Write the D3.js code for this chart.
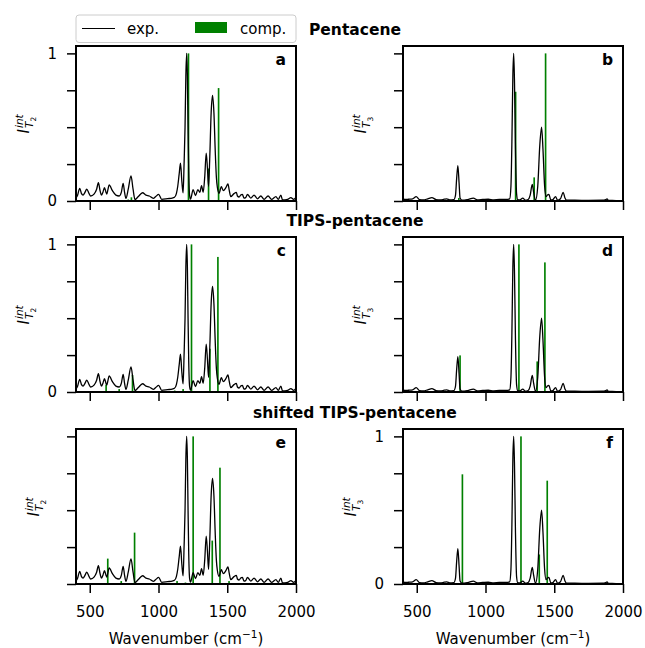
<!DOCTYPE html>
<html>
<head>
<meta charset="utf-8">
<script src="https://cdn.jsdelivr.net/npm/d3@7"></script>
<style>
  body { margin: 0; background: #fff; }
  svg { display: block; font-family: "DejaVu Sans", sans-serif; }
</style>
</head>
<body>
<div id="chart"></div>
<script>
// experimental spectra [wavenumber, normalised intensity]
const expT2 = [
  [400, 0.02], [410, 0.035], [427, 0.086], [440, 0.05], [451, 0.04], [466, 0.06], [478, 0.081], [495, 0.05],
  [507, 0.034], [531, 0.047], [550, 0.08], [563, 0.124], [575, 0.07], [585, 0.04], [596, 0.06], [607, 0.09],
  [618, 0.06], [624, 0.047], [633, 0.08], [641, 0.109], [665, 0.07], [690, 0.04], [714, 0.034], [730, 0.06],
  [743, 0.12], [753, 0.06], [763, 0.018], [780, 0.08], [800, 0.17], [815, 0.08], [829, 0.01], [853, 0.03],
  [884, 0.056], [909, 0.04], [933, 0.034], [962, 0.018], [980, 0.03], [1001, 0.045], [1023, 0.011],
  [1067, 0.016], [1100, 0.02], [1116, 0.025], [1130, 0.05], [1140, 0.1], [1150, 0.18], [1160, 0.256],
  [1170, 0.13], [1179, 0.055], [1186, 0.25], [1193, 0.5], [1199, 0.85], [1205, 1.0], [1210, 0.85],
  [1215, 0.5], [1220, 0.2], [1226, 0.04], [1233, 0.013], [1252, 0.077], [1269, 0.036], [1286, 0.077],
  [1301, 0.059], [1313, 0.104], [1325, 0.059], [1336, 0.16], [1347, 0.324], [1356, 0.22], [1364, 0.1],
  [1373, 0.3], [1383, 0.6], [1393, 0.715], [1403, 0.6], [1413, 0.33], [1421, 0.16], [1428, 0.093],
  [1440, 0.052], [1457, 0.097], [1471, 0.07], [1490, 0.09], [1505, 0.115], [1515, 0.07], [1525, 0.03],
  [1549, 0.05], [1566, 0.059], [1574, 0.034], [1586, 0.027], [1598, 0.04], [1610, 0.045], [1622, 0.02],
  [1634, 0.023], [1647, 0.045], [1671, 0.02], [1695, 0.04], [1720, 0.015], [1744, 0.034], [1768, 0.011],
  [1797, 0.034], [1822, 0.011], [1854, 0.03], [1871, 0.011], [1890, 0.04], [1902, 0.007], [1939, 0.011],
  [1963, 0.023], [1983, 0.011], [2000, 0.025]
];

const expT3 = [
  [400, 0.015], [420, 0.01], [440, 0.012], [470, 0.015], [496, 0.03], [520, 0.01], [549, 0.007],
  [580, 0.015], [610, 0.023], [640, 0.01], [670, 0.007], [700, 0.012], [718, 0.015], [740, 0.008],
  [770, 0.01], [782, 0.04], [790, 0.15], [799, 0.24], [808, 0.12], [815, 0.02], [830, 0.005], [870, 0.01],
  [912, 0.02], [940, 0.008], [980, 0.01], [1020, 0.012], [1060, 0.008], [1100, 0.01], [1150, 0.01],
  [1176, 0.015], [1185, 0.1], [1192, 0.4], [1199, 0.85], [1205, 1.0], [1211, 0.8], [1218, 0.35],
  [1226, 0.05], [1234, 0.01], [1250, 0.008], [1271, 0.02], [1290, 0.005], [1310, 0.01], [1325, 0.04],
  [1340, 0.113], [1350, 0.06], [1364, 0.005], [1380, 0.1], [1395, 0.38], [1408, 0.5], [1418, 0.35],
  [1430, 0.1], [1440, 0.03], [1450, 0.04], [1461, 0.045], [1475, 0.008], [1490, 0.01], [1509, 0.03],
  [1525, 0.005], [1545, 0.015], [1565, 0.059], [1578, 0.02], [1589, 0.005], [1650, 0.005], [1750, 0.004],
  [1850, 0.005], [1875, 0.01], [1884, 0.015], [1893, 0.005], [1950, 0.003], [2000, 0.003]
];

// computed intensities (sticks) per panel
const compA = [[780, 0.01], [803, 0.025], [1218, 1.0], [1364, 0.22], [1437, 0.765]];
const compB = [[806, 0.02], [1219, 0.74], [1354, 0.16], [1437, 1.0]];
const compC = [[619, 0.05], [714, 0.02], [811, 0.115], [1118, 0.01], [1179, 0.02], [1240, 1.0], [1374, 0.293], [1432, 0.915]];
const compD = [[815, 0.248], [1243, 1.0], [1376, 0.207], [1432, 0.878]];
const compE = [[631, 0.172], [729, 0.02], [826, 0.348], [1135, 0.02], [1196, 0.01], [1252, 1.0], [1391, 0.294], [1447, 0.788], [1513, 0.02]];
const compF = [[832, 0.743], [1258, 1.0], [1391, 0.2], [1449, 0.7]];

const rowTitles = ["Pentacene", "TIPS-pentacene", "shifted TIPS-pentacene"];
const panelLetters = ["a", "b", "c", "d", "e", "f"];
const xTicks = [500, 1000, 1500, 2000];
const yTicks = [0, 0.25, 0.5, 0.75, 1];
const yTickLabelled = [true, false, true, false, false, true];

const panels = [
  { exp: expT2, comp: compA, sub: "2" }, { exp: expT3, comp: compB, sub: "3" },
  { exp: expT2, comp: compC, sub: "2" }, { exp: expT3, comp: compD, sub: "3" },
  { exp: expT2, comp: compE, sub: "2" }, { exp: expT3, comp: compF, sub: "3" }
];

const width = 645, height = 648;
const colX = [76, 403], rowY = [46, 237, 429];
const pw = 220, ph = 155;
const stickW = 12; // cm-1

const svg = d3.select('#chart').append('svg')
  .attr('width', width)
  .attr('height', height);

panels.forEach((p, i) => {
  const row = Math.floor(i / 2), col = i % 2;
  const left = colX[col], top = rowY[row];
  const x = d3.scaleLinear().domain([400, 2000]).range([left, left + pw]);
  const y = d3.scaleLinear().domain([0, 1.05]).range([top + ph, top]);
  const g = svg.append('g');

  // sticks
  g.append('g').selectAll('rect')
    .data(p.comp)
    .enter().append('rect')
    .attr('x', d => x(d[0] - stickW / 2))
    .attr('width', d => x(d[0] + stickW / 2) - x(d[0] - stickW / 2))
    .attr('y', d => y(d[1]))
    .attr('height', d => y(0) - y(d[1]))
    .attr('fill', 'green');

  // experimental line
  const line = d3.line()
    .x(d => x(d[0]))
    .y(d => y(d[1]))
    .curve(d3.curveMonotoneX);
  g.append('path')
    .datum(p.exp)
    .attr('d', line)
    .attr('fill', 'none')
    .attr('stroke', 'black')
    .attr('stroke-width', 1.3);

  // axes
  const xAxis = g.append('g')
    .attr('transform', `translate(0,${top + ph})`)
    .call(d3.axisBottom(x).tickValues(xTicks).tickSize(9).tickPadding(13)
      .tickFormat(d => row === 2 ? d : ''));
  const yAxis = g.append('g')
    .attr('transform', `translate(${left},0)`)
    .call(d3.axisLeft(y).tickValues(yTicks).tickSize(9).tickPadding(10)
      .tickFormat(d => (yTickLabelled[i] && (d === 0 || d === 1)) ? d : ''));
  [xAxis, yAxis].forEach(a => {
    a.select('.domain').remove();
    a.selectAll('line').attr('stroke-width', 1.5);
    a.selectAll('text').attr('font-size', 15).attr('font-family', '"DejaVu Sans", sans-serif').attr('fill', 'black');
  });

  // frame
  g.append('rect')
    .attr('x', left).attr('y', top)
    .attr('width', pw).attr('height', ph)
    .attr('fill', 'none')
    .attr('stroke', 'black')
    .attr('stroke-width', 2);

  // panel letter
  g.append('text')
    .attr('x', left + pw - 10).attr('y', top + 19)
    .attr('text-anchor', 'end')
    .attr('font-size', 15.5).attr('font-weight', 'bold')
    .text(panelLetters[i]);

  // y label  I^{int}_{T_n}
  const lx = left - (yTickLabelled[i] ? 47 : 37);
  const lab = g.append('g')
    .attr('transform', `translate(${lx},${top + ph / 2}) rotate(-90)`);
  lab.append('text').attr('x', -10).attr('y', 0)
    .attr('font-size', 15).attr('font-style', 'italic').text('I');
  lab.append('text').attr('x', -4.5).attr('y', -6)
    .attr('font-size', 10.5).attr('font-style', 'italic').text('int');
  lab.append('text').attr('x', -4.5).attr('y', 4)
    .attr('font-size', 10.5).attr('font-style', 'italic').text('T');
  lab.append('text').attr('x', 2).attr('y', 7)
    .attr('font-size', 7.5).text(p.sub);

  // x label
  if (row === 2) {
    const t = g.append('text')
      .attr('x', left + pw / 2).attr('y', top + ph + 60)
      .attr('text-anchor', 'middle')
      .attr('font-size', 15);
    t.append('tspan').text('Wavenumber (cm');
    t.append('tspan').attr('dy', -6).attr('font-size', 10.5).text('\u22121');
    t.append('tspan').attr('dy', 6).text(')');
  }
});

// row titles
rowTitles.forEach((title, r) => {
  svg.append('text')
    .attr('x', 355).attr('y', rowY[r] - 11)
    .attr('text-anchor', 'middle')
    .attr('font-size', 15.5).attr('font-weight', 'bold')
    .text(title);
});

// legend
const leg = svg.append('g');
leg.append('rect')
  .attr('x', 76).attr('y', 15).attr('width', 220).attr('height', 27.5)
  .attr('rx', 3)
  .attr('fill', 'white').attr('fill-opacity', 0.8)
  .attr('stroke', '#cccccc').attr('stroke-width', 1);
leg.append('line')
  .attr('x1', 82).attr('x2', 115).attr('y1', 28.5).attr('y2', 28.5)
  .attr('stroke', 'black').attr('stroke-width', 1.2);
leg.append('text').attr('x', 127).attr('y', 33.5).attr('font-size', 15).text('exp.');
leg.append('rect')
  .attr('x', 195).attr('y', 22).attr('width', 32).attr('height', 11)
  .attr('fill', 'green');
leg.append('text').attr('x', 240).attr('y', 33.5).attr('font-size', 15).text('comp.');
</script>
</body>
</html>
